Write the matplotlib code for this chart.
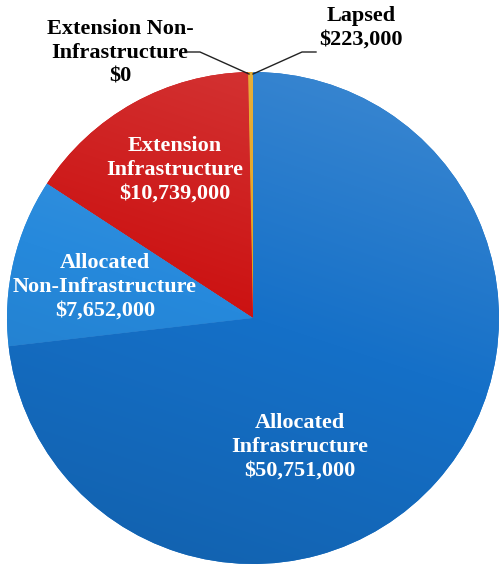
import numpy as np
import matplotlib.pyplot as plt
from matplotlib.colors import to_rgb

# Funding breakdown (dollars)
labels = ["Lapsed", "Extension Non-\nInfrastructure", "Extension\nInfrastructure",
          "Allocated\nNon-Infrastructure", "Allocated\nInfrastructure"]
amounts = [223000, 0, 10739000, 7652000, 50751000]
colors = ["#e3a21a", "#c81010", "#cc1212", "#2689dc", "#1570c8"]

plt.rcParams['font.family'] = ['Liberation Serif', 'DejaVu Serif']

W, H = 500, 567
fig = plt.figure(figsize=(W / 100, H / 100), dpi=100)
ax = fig.add_axes([0, 0, 1, 1])

cx, cy, r = 253, H - 318, 246
wedges, _ = ax.pie(amounts, colors=colors, startangle=90, counterclock=True,
                   center=(cx, cy), radius=r,
                   wedgeprops=dict(linewidth=0))

# soft shading on each wedge: lighter towards the top, darker below
yy, xx = np.mgrid[0:H, 0:W]
shade = np.clip(((xx - cx) * 0.3 + (yy - cy) * 0.9) / r, -1, 1)
for w, col in zip(wedges, colors):
    base = np.array(to_rgb(col))
    img = np.empty((H, W, 3))
    for k in range(3):
        lighter = base[k] + (1 - base[k]) * 0.15
        darker = base[k] * 0.88
        img[..., k] = np.where(shade > 0,
                               base[k] + (lighter - base[k]) * shade,
                               base[k] + (base[k] - darker) * shade)
    im = ax.imshow(np.clip(img, 0, 1), extent=(0, W, 0, H), origin='lower',
                   interpolation='bilinear', zorder=w.get_zorder() + 0.1)
    im.set_clip_path(w)

ax.set_xlim(0, W)
ax.set_ylim(0, H)
ax.set_aspect('equal')
ax.axis('off')


def money(v):
    return "${:,}".format(v)


# labels inside the slices
inside = {2: (175, 170), 3: (105, 287), 4: (300, 447)}
for i, (px, py) in inside.items():
    ax.text(px, H - py, labels[i] + "\n" + money(amounts[i]), color='white',
            fontsize=16, fontweight='bold', ha='center', va='center',
            linespacing=1.25, zorder=5)

# labels outside with leader lines
ax.text(120, H - 53, labels[1] + "\n" + money(amounts[1]), color='black',
        fontsize=16, fontweight='bold', ha='center', va='center',
        linespacing=1.25, zorder=5)
ax.plot([187, 200, 249], [H - 52, H - 52, H - 74], color='#222222', lw=1.0, zorder=6)

ax.text(361, H - 28, labels[0] + "\n" + money(amounts[0]), color='black',
        fontsize=16, fontweight='bold', ha='center', va='center',
        linespacing=1.2, zorder=5)
ax.plot([253, 302, 316], [H - 74, H - 52, H - 52], color='#222222', lw=1.0, zorder=6)

fig.savefig("out.png", dpi=100)
